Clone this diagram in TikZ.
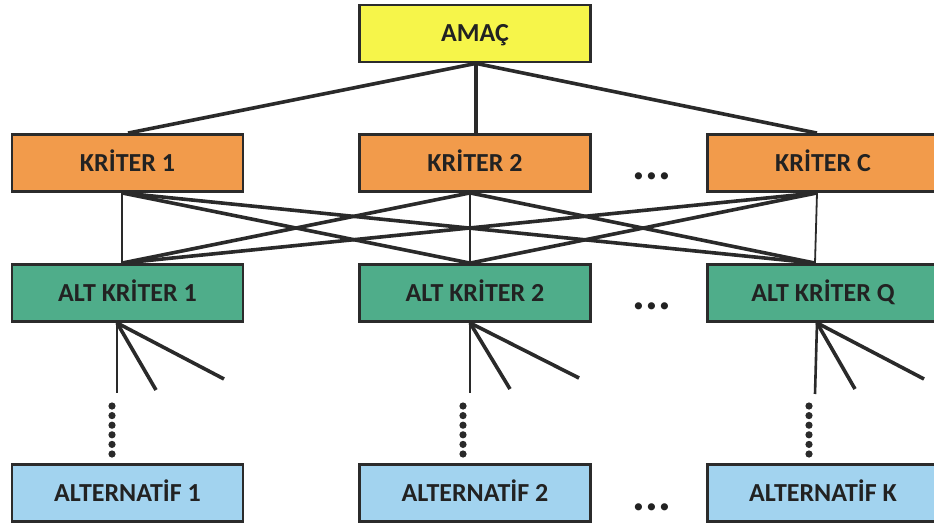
\documentclass[tikz,border=0pt]{standalone}
\usepackage{fontspec}
\setmainfont{Carlito}
\usetikzlibrary{calc}
\definecolor{amac}{HTML}{F6F54A}
\definecolor{kriter}{HTML}{F29B4B}
\definecolor{altk}{HTML}{4FAD8A}
\definecolor{alter}{HTML}{A2D3EF}
\definecolor{boxline}{HTML}{2B2B2B}
\definecolor{lnk}{HTML}{2A2A2A}
\definecolor{txt}{HTML}{222222}
\begin{document}
\begin{tikzpicture}[x=1pt,y=-1pt,
  box/.style={draw=boxline, line width=2.8pt, minimum width=231pt, minimum height=57pt,
    inner sep=0pt, text height=17pt, text depth=0pt,
    font=\fontsize{26}{30}\selectfont\bfseries, text=txt},
  link/.style={draw=lnk, line width=3.6pt},
  thinlink/.style={draw=lnk, line width=1.8pt},
  fanv/.style={draw=lnk, line width=2.6pt},
  ell/.style={font=\fontsize{48}{50}\selectfont\bfseries, text=txt, inner sep=0pt, anchor=base},
  dotc/.style={fill=lnk, draw=none}]
\clip (0,0) rectangle (934,527);
\fill[white] (0,0) rectangle (934,527);

\node[box, fill=amac]   (amac) at (475,33.5) {AMAÇ};
\node[box, fill=kriter] (k1) at (127.5,163) {KRİTER 1};
\node[box, fill=kriter] (k2) at (475,163) {KRİTER 2};
\node[box, fill=kriter] (kc) at (823,163) {KRİTER C};
\node[box, fill=altk]   (a1) at (127.5,293) {ALT KRİTER 1};
\node[box, fill=altk]   (a2) at (475,293) {ALT KRİTER 2};
\node[box, fill=altk]   (aq) at (823,293) {ALT KRİTER Q};
\node[box, fill=alter]  (x1) at (127.5,493) {ALTERNATİF 1};
\node[box, fill=alter]  (x2) at (475,493) {ALTERNATİF 2};
\node[box, fill=alter]  (xk) at (823,493) {ALTERNATİF K};

\node[ell] (e1) at (652,179) {...};
\node[ell] (e2) at (652,309) {...};
\node[ell] (e3) at (652,510) {...};

\coordinate (amacb) at ($(amac.south)+(1,0)$);
\coordinate (k1t) at ($(k1.north)+(0.5,0)$);
\coordinate (k2t) at ($(k2.north)+(1,0)$);
\coordinate (kct) at ($(kc.north)+(-6,0)$);
\coordinate (k1b) at ($(k1.south)+(-5.5,0)$);
\coordinate (k2b) at ($(k2.south)+(-5,0)$);
\coordinate (kcb) at ($(kc.south)+(-6,0)$);
\coordinate (a1t) at ($(a1.north)+(-5.5,0)$);
\coordinate (a2t) at ($(a2.north)+(-5,0)$);
\coordinate (aqt) at ($(aq.north)+(-8,0)$);
\coordinate (a1b) at ($(a1.south)+(-10.5,0)$);
\coordinate (a2b) at ($(a2.south)+(-5,0)$);
\coordinate (aqb) at ($(aq.south)+(-6,0)$);

% goal to criteria
\draw[link] (amacb) -- (k1t);
\draw[link] (amacb) -- (k2t);
\draw[link] (amacb) -- (kct);

% criteria to sub-criteria
\draw[thinlink] (k1b) -- (a1t);
\draw[thinlink] (k2b) -- (a2t);
\draw[thinlink] (kcb) -- (aqt);
\draw[link] (k1b) -- (a2t);
\draw[link] (k1b) -- (aqt);
\draw[link] (k2b) -- (a1t);
\draw[link] (k2b) -- (aqt);
\draw[link] (kcb) -- (a1t);
\draw[link] (kcb) -- (a2t);

% fans
\coordinate (f1a) at (117,393);
\coordinate (f1b) at (156,390);
\coordinate (f1c) at (224,379);
\coordinate (f2a) at (470,393);
\coordinate (f2b) at (510,389);
\coordinate (f2c) at (579,378);
\coordinate (fqa) at (815,394);
\coordinate (fqb) at (855,389);
\coordinate (fqc) at (924,379);
\draw[fanv] (a1b) -- (f1a);
\draw[link] (a1b) -- (f1b);
\draw[link] (a1b) -- (f1c);
\draw[fanv] (a2b) -- (f2a);
\draw[link] (a2b) -- (f2b);
\draw[link] (a2b) -- (f2c);
\draw[fanv] (aqb) -- (fqa);
\draw[link] (aqb) -- (fqb);
\draw[link] (aqb) -- (fqc);

% vertical dotted columns
\foreach \xx in {112,463,809}{
  \foreach \k in {0,...,5}{
    \fill[dotc] (\xx,{406+9.6*\k}) circle (3.6);
  }
}
\end{tikzpicture}
\end{document}
